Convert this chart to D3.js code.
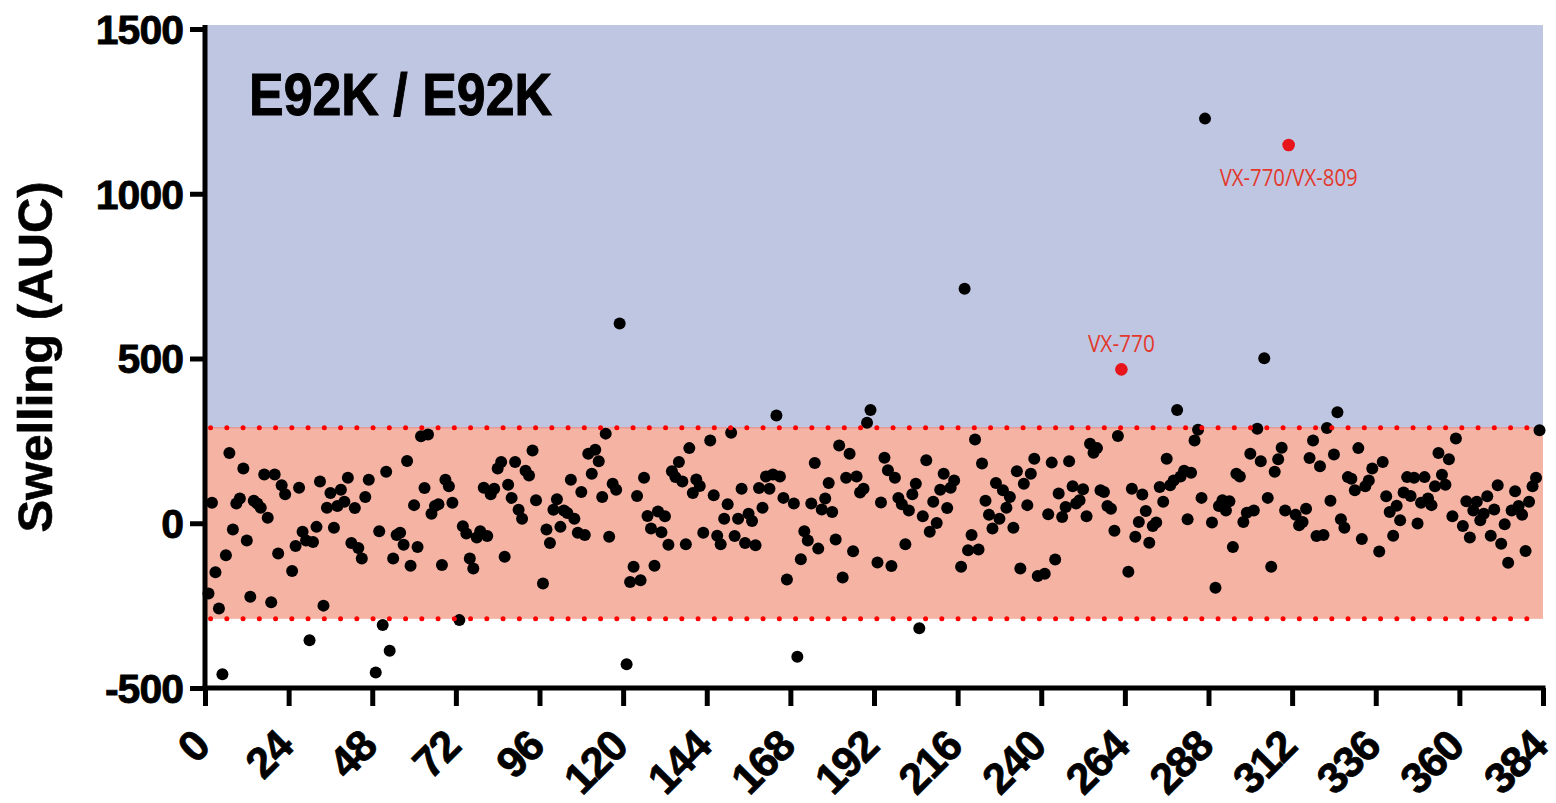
<!DOCTYPE html>
<html>
<head>
<meta charset="utf-8">
<script src="https://cdn.jsdelivr.net/npm/d3@7"></script>
<style>
  body { margin: 0; background: #ffffff; }
  svg { display: block; }
</style>
</head>
<body>
<svg id="chart" width="1556" height="803"></svg>
<script>
// Swelling (AUC) per well of a 384-well plate; null = well with no black point
const swelling = [
  null,-213,62,-149,-259,-458,-97,213,-19,60,75,166,-52,-223,68,60,47,148,17,-240,148,-92,115,88,
  null,-145,-69,108,-26,-52,-355,-57,-11,127,-250,47,92,-14,52,102,65,138,-60,46,-75,-107,80,132,
  null,-453,-24,-309,156,-387,-107,-36,-29,-65,189,-129,55,-72,264,107,269,29,52,58,-127,132,112,62,
  null,-294,-9,-31,-107,-137,-43,-24,108,-39,88,105,166,186,-102,117,77,186,41,14,159,145,221,70,
  null,-183,-19,-60,41,73,-11,39,31,132,14,-29,95,-36,211,150,223,188,80,272,-41,120,102,606,
  null,-428,-178,-132,83,-173,138,22,-16,-129,36,-27,21,-65,158,140,186,127,-64,228,92,133,113,-29,
  null,251,85,-38,-64,14,58,275,-39,14,105,-60,29,7,-67,107,47,142,105,148,327,142,77,-171,
  null,60,-405,-109,-24,-52,60,183,-77,42,75,122,34,-49,236,-165,138,211,-85,142,93,105,305,344,
  null,-119,63,199,161,-130,138,77,58,-64,39,88,120,-319,21,191,-26,65,1,102,150,46,108,130,
  null,-132,712,-82,-36,254,-80,181,68,26,-16,122,14,100,47,80,-14,158,-137,120,55,150,196,-160,
  null,-153,27,184,-110,90,19,49,188,112,60,70,103,21,241,214,228,100,95,52,44,-23,265,null,
  null,-147,105,-41,4,87,37,-59,-8,2,110,65,196,115,130,344,142,159,12,153,251,284,77,1228,
  null,2,-196,52,70,39,67,-72,150,142,4,32,211,39,287,188,501,77,-132,156,194,229,39,null,
  null,26,-6,4,44,198,251,-39,173,-36,289,68,209,337,12,-14,140,135,100,228,-48,112,130,166,
  null,-86,186,82,34,-38,53,9,93,140,83,138,-1,62,140,75,55,112,213,147,117,194,21,257,
  null,-8,67,-43,39,65,9,29,82,-38,42,115,-62,-3,-120,39,97,52,26,-84,65,112,138,282
];

// Reference compounds, drawn in red with their names
const refWells  = [263, 311];
const refValues = [467, 1148];
const refNames  = ["VX-770", "VX-770/VX-809"];

const xTicks = d3.range(0, 385, 24);
const yTicks = [-500, 0, 500, 1000, 1500];
const bandLimits = [-290, 290];
const topLimit = 1512;
const panelTitle = "E92K / E92K";
const yTitle = "Swelling (AUC)";

const svg = d3.select("#chart");
const x = d3.scaleLinear().domain([0, 384]).range([205, 1543]);
const y = d3.scaleLinear().domain([-500, 1500]).range([688, 29]);

const bold = "'Liberation Sans', Arial, Helvetica, sans-serif";
const plainNumber = d => String(d);   // hyphen-minus for negatives

// background bands
svg.append("rect")
  .attr("x", x(0)).attr("y", y(topLimit))
  .attr("width", x(384) - x(0)).attr("height", y(bandLimits[1]) - y(topLimit))
  .attr("fill", "#bfc6e2");
svg.append("rect")
  .attr("x", x(0)).attr("y", y(bandLimits[1]))
  .attr("width", x(384) - x(0)).attr("height", y(bandLimits[0]) - y(bandLimits[1]))
  .attr("fill", "#f4b3a3");
svg.append("line")
  .attr("x1", x(0)).attr("x2", x(384))
  .attr("y1", y(bandLimits[1])).attr("y2", y(bandLimits[1]))
  .attr("stroke", "#e59a98").attr("stroke-width", 1.5);

// panel title
svg.append("text")
  .attr("x", 249).attr("y", 115)
  .attr("font-family", bold).attr("font-weight", "bold")
  .attr("font-size", 59)
  .attr("textLength", 303).attr("lengthAdjust", "spacingAndGlyphs")
  .attr("fill", "#000").attr("stroke", "#000").attr("stroke-width", 1)
  .text(panelTitle);

// screening points
const pts = swelling.map((v, i) => ({ well: i, value: v })).filter(d => d.value !== null);
svg.append("g").selectAll("circle")
  .data(pts).join("circle")
  .attr("cx", d => x(d.well))
  .attr("cy", d => y(d.value))
  .attr("r", 6)
  .attr("fill", "#000");

// threshold dotted lines
svg.append("g").selectAll("line")
  .data(bandLimits).join("line")
  .attr("x1", x(1.6)).attr("x2", x(384))
  .attr("y1", d => y(d)).attr("y2", d => y(d))
  .attr("stroke", "#ff0000")
  .attr("stroke-width", 5)
  .attr("stroke-linecap", "round")
  .attr("stroke-dasharray", "0 16.25");

// reference compounds
const refs = refWells.map((w, i) => ({ well: w, value: refValues[i], name: refNames[i] }));
svg.append("g").selectAll("circle")
  .data(refs).join("circle")
  .attr("cx", d => x(d.well))
  .attr("cy", d => y(d.value))
  .attr("r", 6.3)
  .attr("fill", "#e8141c");
const labelOffsets = [-17, 41];
const labelWidths = [67, 138];
svg.append("g").selectAll("text")
  .data(refs).join("text")
  .attr("x", d => x(d.well))
  .attr("y", (d, i) => y(d.value) + labelOffsets[i])
  .attr("text-anchor", "middle")
  .attr("font-family", "'Open Sans', 'Noto Sans', sans-serif")
  .attr("font-size", 24)
  .attr("textLength", (d, i) => labelWidths[i])
  .attr("lengthAdjust", "spacingAndGlyphs")
  .attr("fill", "#e2392c")
  .text(d => d.name);

// y axis
const yAxis = svg.append("g")
  .attr("transform", `translate(${x(0)},0)`)
  .call(d3.axisLeft(y).tickValues(yTicks).tickSize(15).tickSizeOuter(0).tickFormat(plainNumber));
yAxis.select(".domain").remove();
yAxis.selectAll(".tick line").attr("stroke", "#000").attr("stroke-width", 5);
yAxis.selectAll(".tick text")
  .attr("x", -22).attr("dy", "0.35em")
  .attr("font-family", bold).attr("font-weight", "bold")
  .attr("font-size", 41).attr("letter-spacing", -1)
  .attr("fill", "#000").attr("stroke", "#000").attr("stroke-width", 0.8);
svg.append("line")
  .attr("x1", x(0)).attr("x2", x(0))
  .attr("y1", y(topLimit)).attr("y2", y(-500) + 2.5)
  .attr("stroke", "#000").attr("stroke-width", 5);

// x axis
const xAxis = svg.append("g")
  .attr("transform", `translate(0,${y(-500)})`)
  .call(d3.axisBottom(x).tickValues(xTicks).tickSize(18).tickSizeOuter(0).tickFormat(plainNumber));
xAxis.select(".domain").remove();
xAxis.selectAll(".tick line").attr("stroke", "#000").attr("stroke-width", 5);
xAxis.selectAll(".tick text")
  .attr("x", 0).attr("y", 0).attr("dy", 0)
  .attr("text-anchor", "end")
  .attr("transform", "translate(6,61) rotate(-45)")
  .attr("font-family", bold).attr("font-weight", "bold")
  .attr("font-size", 43).attr("letter-spacing", -1.5)
  .attr("fill", "#000").attr("stroke", "#000").attr("stroke-width", 0.8);
svg.append("line")
  .attr("x1", x(0) - 2.5).attr("x2", x(384) + 2.5)
  .attr("y1", y(-500)).attr("y2", y(-500))
  .attr("stroke", "#000").attr("stroke-width", 5);

// y axis title
svg.append("text")
  .attr("transform", "translate(52,357) rotate(-90)")
  .attr("text-anchor", "middle")
  .attr("font-family", bold).attr("font-weight", "bold")
  .attr("font-size", 49)
  .attr("fill", "#000").attr("stroke", "#000").attr("stroke-width", 0.6)
  .text(yTitle);
</script>
</body>
</html>
